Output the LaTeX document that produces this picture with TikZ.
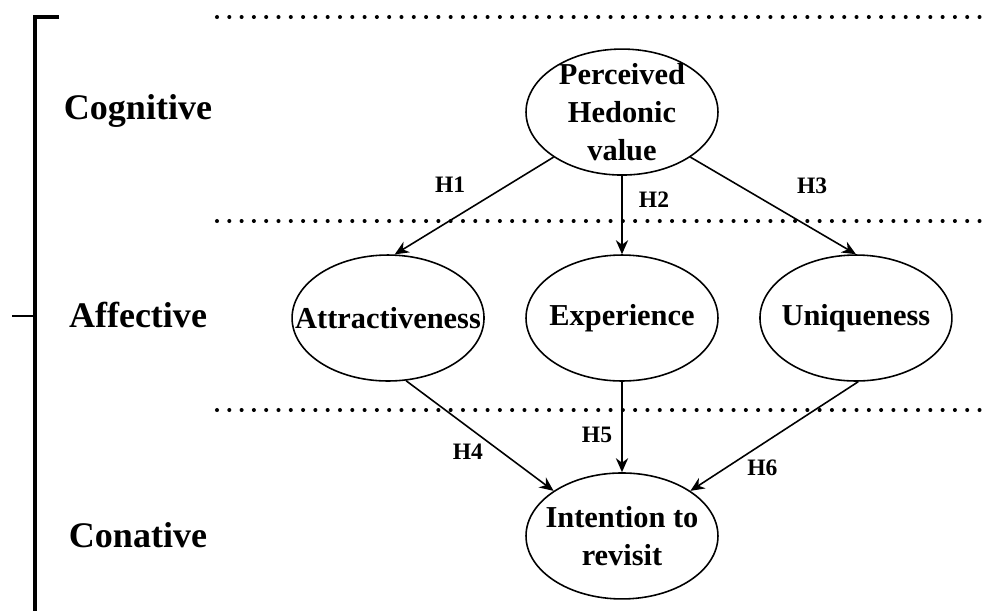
\documentclass[tikz,border=0pt]{standalone}
\usepackage{fontspec}
\setmainfont{Liberation Serif}
\usetikzlibrary{shapes.geometric,arrows.meta,positioning}

\begin{document}
\begin{tikzpicture}[x=0.02cm,y=-0.02cm,>={Stealth[length=8pt,width=7pt]},node distance=4.68cm,
  construct/.style={draw,ellipse,line width=0.9pt,minimum width=3.84cm,minimum height=2.52cm,
    inner xsep=-3cm,inner ysep=-1.2cm,align=center,font=\bfseries\fontsize{17.3}{21.5}\selectfont},
  level/.style={font=\bfseries\fontsize{20.5}{24}\selectfont},
  hyp/.style={font=\bfseries\fontsize{13.4}{16}\selectfont,inner sep=0pt},
  sep/.style={line width=2.3pt,line cap=round,dash pattern=on 0pt off 7pt}]

          \useasboundingbox (0,0) rectangle (992,610);

          % layers
          \draw[line width=2pt] (59,17) -- (35,17) -- (35,612);
          \draw[line width=1.4pt] (12,316) -- (35,316);
          \draw[sep] (217,17) -- (985,17);
          \draw[sep] (217,221) -- (985,221);
          \draw[sep] (217,410) -- (985,410);

          \node[level] (cog) at (138,111) {Cognitive};
          \node[level] (aff) at (138,315) {Affective};
          \node[level] (con) at (138,535) {Conative};

          % constructs
          \node[construct] (exp) at (622,318) {Experience};
          \node[construct] (attr) [left of=exp] {Attractiveness};
          \node[construct] (uniq) [right of=exp] {Uniqueness};
          \node[construct] (phv) [above of=exp, node distance=4.12cm] {Perceived\\Hedonic\\value};
          \node[construct] (int) [below of=exp, node distance=4.36cm] {Intention to\\revisit};

          \path[->,line width=0.9pt]
          (phv.south west) edge node[hyp,shift={(-24,-21)}] {H1} (attr.84)
          (phv.south) edge node[hyp,shift={(32,-15)}] {H2} (exp.north)
          (phv.south east) edge node[hyp,shift={(39,-20)}] {H3} (uniq.north)

          (attr.-74) edge node[hyp,shift={(-12,16)}] {H4} (int.north west)
          (exp.south) edge node[hyp,shift={(-25,8)}] {H5} (int.north)
          (uniq.-88) edge node[hyp,shift={(-12,32)}] {H6} (int.north east)
          ;
        \end{tikzpicture}
\end{document}
